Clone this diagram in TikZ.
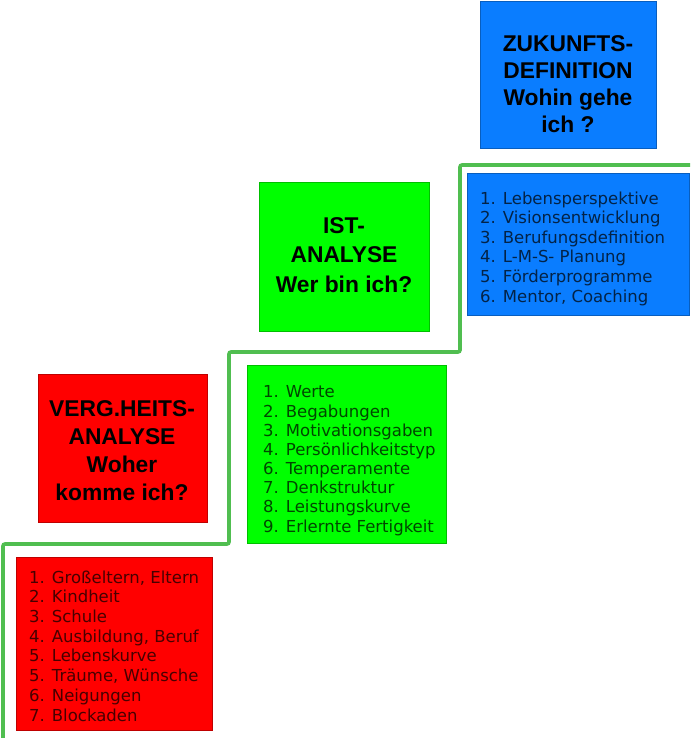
\documentclass[tikz,border=0pt]{standalone}
\usepackage{fontspec}
\setmainfont{Liberation Sans}
\newfontfamily\listfont{DejaVu Sans}
\definecolor{cred}{RGB}{255,0,0}
\definecolor{cgreen}{RGB}{0,255,0}
\definecolor{cblue}{RGB}{10,125,255}
\definecolor{cline}{RGB}{80,190,80}
\begin{document}
\begin{tikzpicture}[x=1pt,y=-1pt,
  box/.style={draw=#1!75!black, line width=0.5pt, fill=#1, anchor=north west, inner sep=0pt, outer sep=0pt},
  titletext/.style={font=\bfseries\fontsize{22.8}{28}\selectfont, align=center, anchor=base, inner sep=0pt, text=black},
  listtext/.style={font=\listfont\fontsize{16.5}{19.7}\selectfont, align=left, anchor=base west, inner sep=0pt, text=#1!28!black},
  stair/.style={draw=cline, line width=3.6pt, rounded corners=2pt}]
\useasboundingbox (0,0) rectangle (690,738);
% boxes
\node[box=cred, minimum width=169pt, minimum height=148pt] (rtbox) at (38,374) {};
\node[box=cred, minimum width=196pt, minimum height=173pt] (rlbox) at (16,557) {};
\node[box=cgreen, minimum width=170pt, minimum height=149pt] (gtbox) at (259,182) {};
\node[box=cgreen, minimum width=199pt, minimum height=178pt] (glbox) at (247,365) {};
\node[box=cblue, minimum width=176pt, minimum height=147pt] (btbox) at (480,1) {};
\node[box=cblue, minimum width=222pt, minimum height=142pt] (blbox) at (467,173) {};
% titles (anchored at the baseline of the last line)
\node[titletext] (rtt) at (122,500) {VERG.HEITS-\\ANALYSE\\Woher\\komme ich?};
\node[titletext, font=\bfseries\fontsize{22.8}{29.5}\selectfont] (gtt) at (344,292) {IST-\\ANALYSE\\Wer bin ich?};
\node[titletext, font=\bfseries\fontsize{22.8}{27}\selectfont] (btt) at (568,133) {ZUKUNFTS-\\DEFINITION\\Wohin gehe\\ich ?};
% lists (anchored at the baseline of the last line)
\node[listtext=cred] (rlt) at (29,721) {1. Großeltern, Eltern\\2. Kindheit\\3. Schule\\4. Ausbildung, Beruf\\5. Lebenskurve\\5. Träume, Wünsche\\6. Neigungen\\7. Blockaden};
\node[listtext=cgreen, font=\listfont\fontsize{16.5}{19.15}\selectfont] (glt) at (263,532) {1. Werte\\2. Begabungen\\3. Motivationsgaben\\4. Persönlichkeitstyp\\6. Temperamente\\7. Denkstruktur\\8. Leistungskurve\\9. Erlernte Fertigkeit};
\node[listtext=cblue, font=\listfont\fontsize{16.5}{19.6}\selectfont] (blt) at (480,302) {1. Lebensperspektive\\2. Visionsentwicklung\\3. Berufungsdefinition\\4. L-M-S- Planung\\5. Förderprogramme\\6. Mentor, Coaching};
% stair line
\coordinate (s0) at (3,740);
\coordinate (s1) at (229,544);
\coordinate (s2) at (460,352);
\coordinate (s3) at (690,165);
\draw[stair] (s0) |- (s1) |- (s2) |- (s3);
\end{tikzpicture}
\end{document}
